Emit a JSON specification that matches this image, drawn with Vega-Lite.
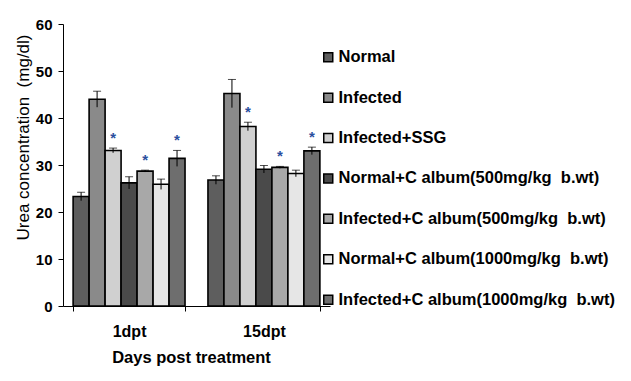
{
  "$schema": "https://vega.github.io/schema/vega-lite/v6.json",
  "autosize": {"type": "none"},
  "padding": {"left": 63, "top": 24, "right": 301, "bottom": 75},
  "width": 267,
  "height": 282,
  "background": "white",
  "config": {
    "view": {"stroke": null},
    "font": "Liberation Sans"
  },
  "data": {
    "values": [
      {"day": "1dpt", "treatment": "Normal", "value": 23.3, "err": 0.9, "sig": ""},
      {"day": "1dpt", "treatment": "Infected", "value": 44.0, "err": 1.7, "sig": ""},
      {"day": "1dpt", "treatment": "Infected+SSG", "value": 33.1, "err": 0.5, "sig": "*"},
      {"day": "1dpt", "treatment": "Normal+C album(500mg/kg \u00a0b.wt)", "value": 26.2, "err": 1.3, "sig": ""},
      {"day": "1dpt", "treatment": "Infected+C album(500mg/kg \u00a0b.wt)", "value": 28.7, "err": 0.2, "sig": "*"},
      {"day": "1dpt", "treatment": "Normal+C album(1000mg/kg \u00a0b.wt)", "value": 25.9, "err": 1.1, "sig": ""},
      {"day": "1dpt", "treatment": "Infected+C album(1000mg/kg \u00a0b.wt)", "value": 31.4, "err": 1.7, "sig": "*"},
      {"day": "15dpt", "treatment": "Normal", "value": 26.8, "err": 0.9, "sig": ""},
      {"day": "15dpt", "treatment": "Infected", "value": 45.2, "err": 3.0, "sig": ""},
      {"day": "15dpt", "treatment": "Infected+SSG", "value": 38.2, "err": 0.9, "sig": "*"},
      {"day": "15dpt", "treatment": "Normal+C album(500mg/kg \u00a0b.wt)", "value": 29.1, "err": 0.8, "sig": ""},
      {"day": "15dpt", "treatment": "Infected+C album(500mg/kg \u00a0b.wt)", "value": 29.5, "err": 0.2, "sig": "*"},
      {"day": "15dpt", "treatment": "Normal+C album(1000mg/kg \u00a0b.wt)", "value": 28.2, "err": 0.7, "sig": ""},
      {"day": "15dpt", "treatment": "Infected+C album(1000mg/kg \u00a0b.wt)", "value": 33.0, "err": 0.8, "sig": "*"}
    ]
  },
  "transform": [
    {"calculate": "datum.value + datum.err", "as": "hi"},
    {"calculate": "datum.value - datum.err", "as": "lo"}
  ],
  "encoding": {
    "x": {
      "field": "day", "type": "nominal", "sort": ["1dpt", "15dpt"],
      "scale": {"paddingInner": 0.17, "paddingOuter": 0.075},
      "axis": {
        "title": "Days post treatment", "labelAngle": 0, "labelFont": "Liberation Sans",
        "labelFontWeight": "bold", "labelFontSize": 16, "labelColor": "black", "labelPadding": 12,
        "titleFontSize": 16.5, "titleFontWeight": "bold", "titleColor": "black", "titlePadding": 10,
        "titleX": 128,
        "domainColor": "black", "tickColor": "black", "tickBand": "extent", "tickSize": 5
      }
    },
    "xOffset": {
      "field": "treatment", "type": "nominal",
      "sort": ["Normal", "Infected", "Infected+SSG", "Normal+C album(500mg/kg \u00a0b.wt)", "Infected+C album(500mg/kg \u00a0b.wt)", "Normal+C album(1000mg/kg \u00a0b.wt)", "Infected+C album(1000mg/kg \u00a0b.wt)"],
      "scale": {"paddingInner": 0, "paddingOuter": 0}
    }
  },
  "layer": [
    {
      "mark": {"type": "bar", "stroke": "black", "strokeWidth": 1.6},
      "encoding": {
        "y": {
          "field": "value", "type": "quantitative",
          "scale": {"domain": [0, 60]},
          "axis": {
            "title": "Urea concentration \u00a0(mg/dl)", "values": [0, 10, 20, 30, 40, 50, 60],
            "grid": false, "labelFontWeight": "bold", "labelFontSize": 15, "labelColor": "black",
            "labelPadding": 6, "titleFontSize": 17, "titleFontWeight": "normal", "titleColor": "black",
            "titleX": -35, "titleY": 113, "titleBaseline": "alphabetic", "titleAlign": "center", "titleAngle": -90,
            "domainColor": "black", "tickColor": "black", "tickSize": 5
          }
        },
        "fill": {
          "field": "treatment", "type": "nominal",
          "scale": {
            "domain": ["Normal", "Infected", "Infected+SSG", "Normal+C album(500mg/kg \u00a0b.wt)", "Infected+C album(500mg/kg \u00a0b.wt)", "Normal+C album(1000mg/kg \u00a0b.wt)", "Infected+C album(1000mg/kg \u00a0b.wt)"],
            "range": ["#5e5e5e", "#8a8a8a", "#d0d0d0", "#4a4a4a", "#a8a8a8", "#e6e6e6", "#6e6e6e"]
          },
          "legend": {
            "title": null, "orient": "none", "legendX": 257, "legendY": 25,
            "symbolType": "square", "symbolSize": 81, "symbolStrokeColor": "black", "symbolStrokeWidth": 1.5,
            "labelFontSize": 16.5, "labelFontWeight": "bold", "labelColor": "black", "labelLimit": 400,
            "rowPadding": 23.4, "labelOffset": 2
          }
        }
      }
    },
    {
      "mark": {"type": "rule", "color": "black", "strokeWidth": 1},
      "encoding": {
        "y": {"field": "lo", "type": "quantitative"},
        "y2": {"field": "hi"}
      }
    },
    {
      "mark": {"type": "tick", "color": "black", "thickness": 1, "size": 8, "orient": "horizontal"},
      "encoding": {
        "y": {"field": "hi", "type": "quantitative"}
      }
    },
    {
      "mark": {"type": "text", "color": "#2b4f9e", "fontSize": 15, "fontWeight": "bold", "dy": -2, "baseline": "bottom"},
      "encoding": {
        "y": {"field": "hi", "type": "quantitative"},
        "text": {"field": "sig"}
      }
    }
  ]
}
